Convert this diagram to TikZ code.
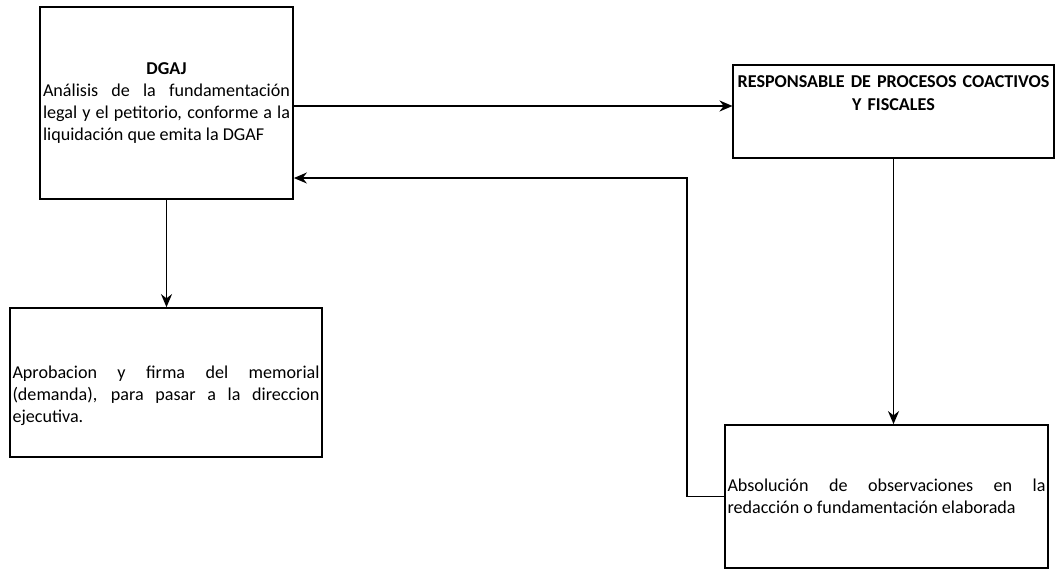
\documentclass[tikz,border=0pt]{standalone}
\usepackage{fontspec}
\setmainfont{Carlito}
\usetikzlibrary{arrows.meta, positioning, calc}

\begin{document}
\begin{tikzpicture}[
    box/.style={rectangle, draw=black, line width=1pt, inner sep=1.5pt, align=justify, font=\fontsize{10.3}{12.5}\selectfont},
    title/.style={box, align=center, font=\fontsize{10.3}{13}\selectfont\bfseries},
    arrow/.style={-{Stealth[length=2.6mm, width=2.2mm]}, line width=1pt}
]
\useasboundingbox (0,0) rectangle (21.16,-11.48);

% Boxes
\node[box, minimum width=5.06cm, minimum height=3.84cm, text width=4.94cm] (dgaj) at (3.33,-2.06)
  {\makebox[\linewidth]{\bfseries DGAJ}\\
   Análisis de la fundamentación\linebreak legal y el petitorio, conforme a la\linebreak liquidación que emita la DGAF};
\node[title, minimum width=6.34cm, minimum height=1.86cm, text width=6.3cm, text depth=1.18cm] (resp) at (17.87,-2.23)
  {RESPONSABLE DE PROCESOS COACTIVOS\\ Y FISCALES};
\node[box, minimum width=6.24cm, minimum height=2.98cm, text width=6.14cm, text height=0.8cm] (aprob) at (3.32,-7.65)
  {Aprobacion y firma del memorial\linebreak (demanda), para pasar a la direccion\linebreak ejecutiva.};
\node[box, minimum width=6.46cm, minimum height=2.86cm, text width=6.36cm] (absol) at (17.73,-9.93)
  {Absolución de observaciones en la\linebreak redacción o fundamentación elaborada};

% Arrows
\draw[arrow] ([yshift=-0.06cm]dgaj.east) -- ([yshift=-0.06cm]dgaj.east -| resp.west);
\draw[arrow] (resp.south) -- (resp.south |- absol.north);
\draw[arrow] (absol.west) -- ++(-0.74,0) |- ([yshift=-1.5cm]dgaj.east);
\draw[arrow] (dgaj.south) -- (dgaj.south |- aprob.north);

\end{tikzpicture}
\end{document}
